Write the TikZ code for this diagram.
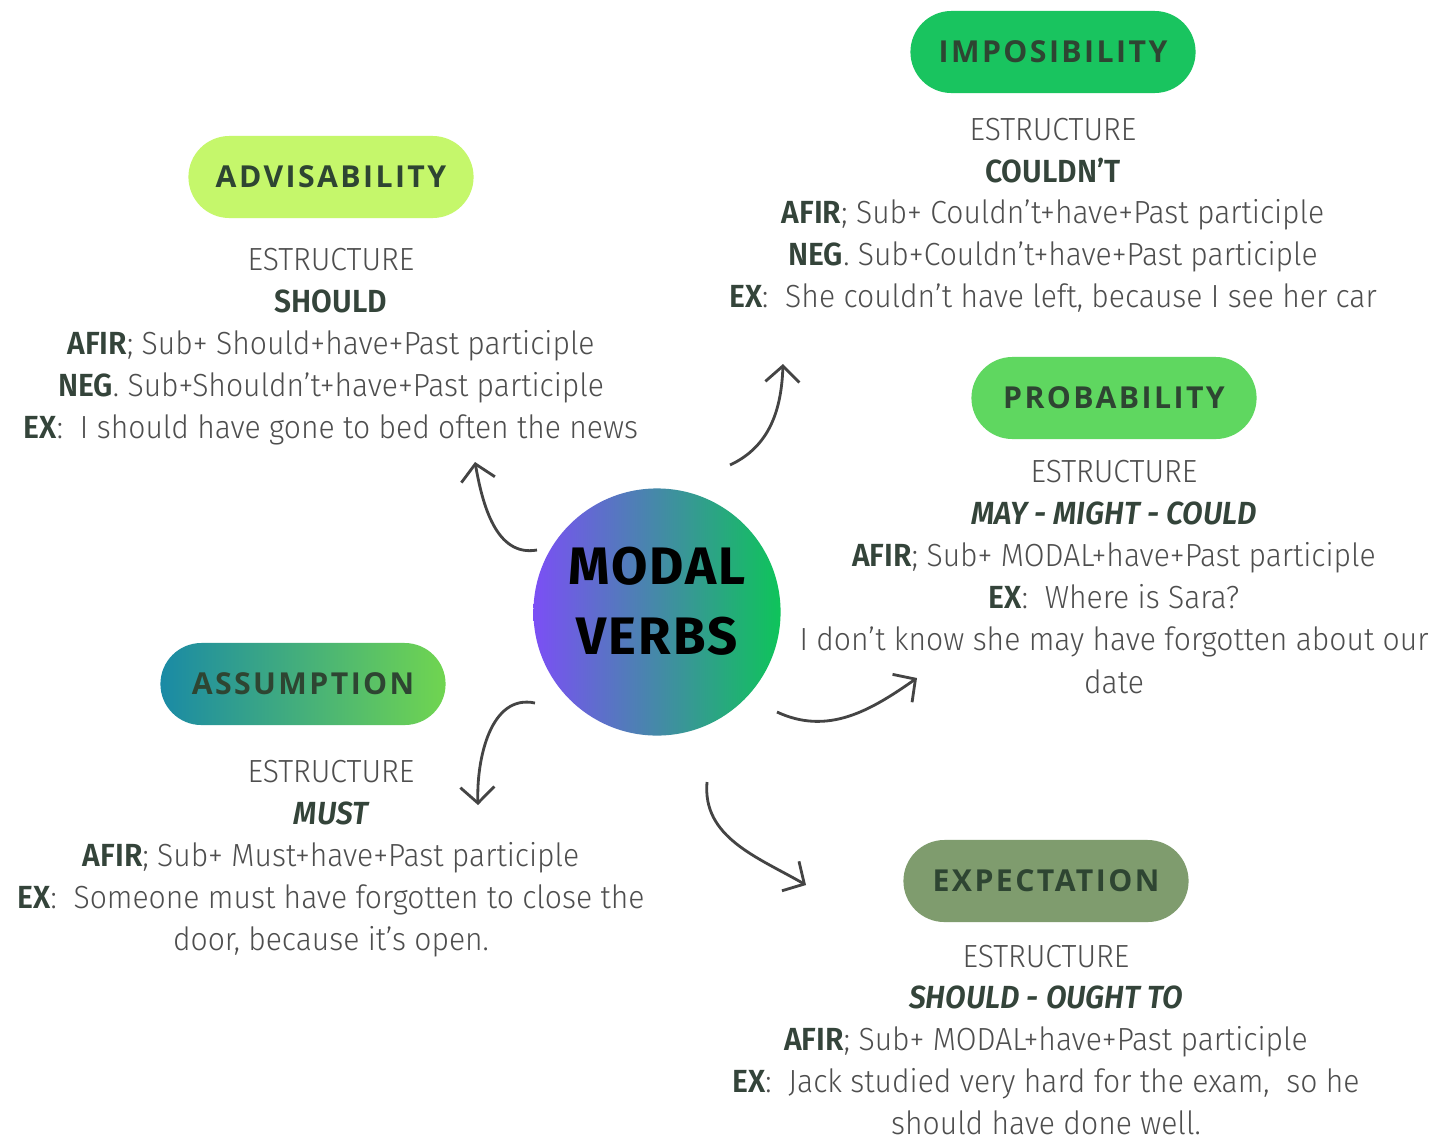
\documentclass[tikz,border=0pt]{standalone}
\usepackage{fontspec}
\usepackage{xcolor}
\usetikzlibrary{arrows.meta}
\setmainfont{Fira Sans}[UprightFont=* Light, BoldFont=* SemiBold, ItalicFont=* Light Italic, BoldItalicFont=* SemiBold Italic, FakeStretch=0.94]
\newfontfamily\pillfont{Open Sans}[LetterSpace=8]
\newfontfamily\hubfont{Fira Sans}[LetterSpace=4]
\definecolor{bodygray}{HTML}{4E4E4E}
\definecolor{labelgreen}{HTML}{34443A}
\definecolor{pilltext}{HTML}{2E4532}
\definecolor{advcol}{HTML}{C5F76B}
\definecolor{impcol}{HTML}{19C45F}
\definecolor{probcol}{HTML}{5FD760}
\definecolor{expcol}{HTML}{7F9C6E}
\definecolor{asslcol}{HTML}{1A8AA5}
\definecolor{assrcol}{HTML}{70D550}
\definecolor{hubl}{HTML}{7B4FF5}
\definecolor{hubr}{HTML}{0EC45A}
\definecolor{arrowgray}{HTML}{444444}
\newcommand{\lab}[1]{\textbf{\color{labelgreen}#1}}

\begin{document}
\begin{tikzpicture}[x=0.01cm,y=-0.01cm]
\tikzstyle{pill} = [rectangle, rounded corners=4.1mm, minimum width=2.85cm, minimum height=0.82cm, text=pilltext, font=\pillfont\bfseries\fontsize{8.6}{10}\selectfont]
\tikzstyle{line} = [anchor=base, inner sep=0pt, text=bodygray, font=\fontsize{9.1}{11}\selectfont]
\tikzstyle{hub} = [circle, minimum size=2.47cm, shading=axis, left color=hubl, right color=hubr]
\tikzstyle{hubtext} = [align=center, inner sep=0pt, font=\hubfont\bfseries\fontsize{15}{19.9}\selectfont]
\tikzstyle{curvy} = [draw=arrowgray, line width=0.8pt, -{Straight Barb[length=1.6mm, width=3.4mm]}]

\fill[white] (0,0) rectangle (1446,1139);

% centre
\node(hub) [hub] at (657,612) {};
\node(hubLabel) [hubtext] at (657,601) {MODAL\\VERBS};

% advisability
\node(advPill) [pill, fill=advcol] at (331,177) {ADVISABILITY};
\node(advEst) [line] at (331,270) {ESTRUCTURE};
\node(advMod) [line] at (331,312) {\lab{SHOULD}};
\node(advAfir) [line] at (331,354) {\lab{AFIR}; Sub+ Should+have+Past participle};
\node(advNeg) [line] at (331,396) {\lab{NEG}. Sub+Shouldn’t+have+Past participle};
\node(advEx) [line] at (331,438) {\lab{EX}:\ \ I should have gone to bed often the news};

% imposibility
\node(impPill) [pill, fill=impcol] at (1053,52) {IMPOSIBILITY};
\node(impEst) [line] at (1053,140) {ESTRUCTURE};
\node(impMod) [line] at (1053,182) {\lab{COULDN’T}};
\node(impAfir) [line] at (1053,223) {\lab{AFIR}; Sub+ Couldn’t+have+Past participle};
\node(impNeg) [line] at (1053,265) {\lab{NEG}. Sub+Couldn’t+have+Past participle};
\node(impEx) [line] at (1053,307) {\lab{EX}:\ \ She couldn’t have left, because I see her car};

% probability
\node(probPill) [pill, fill=probcol] at (1114,398) {PROBABILITY};
\node(probEst) [line] at (1114,482) {ESTRUCTURE};
\node(probMod) [line] at (1114,524) {\lab{\itshape MAY - MIGHT - COULD}};
\node(probAfir) [line] at (1114,566) {\lab{AFIR}; Sub+ MODAL+have+Past participle};
\node(probEx) [line] at (1114,608) {\lab{EX}:\ \ Where is Sara?};
\node(probEx2) [line] at (1114,650) {I don’t know she may have forgotten about our};
\node(probEx3) [line] at (1114,693) {date};

% assumption
\node(assPill) [pill, left color=asslcol, right color=assrcol] at (303,684) {ASSUMPTION};
\node(assEst) [line] at (331,782) {ESTRUCTURE};
\node(assMod) [line] at (331,824) {\lab{\itshape MUST}};
\node(assAfir) [line] at (331,866) {\lab{AFIR}; Sub+ Must+have+Past participle};
\node(assEx) [line] at (331,908) {\lab{EX}:\ \ Someone must have forgotten to close the};
\node(assEx2) [line] at (331,950) {door, because it’s open.};

% expectation
\node(expPill) [pill, fill=expcol] at (1046,881) {EXPECTATION};
\node(expEst) [line] at (1046,967) {ESTRUCTURE};
\node(expMod) [line] at (1046,1008) {\lab{\itshape SHOULD - OUGHT TO}};
\node(expAfir) [line] at (1046,1050) {\lab{AFIR}; Sub+ MODAL+have+Past participle};
\node(expEx) [line] at (1046,1092) {\lab{EX}:\ \ Jack studied very hard for the exam,\ \ so he};
\node(expEx2) [line] at (1046,1134) {should have done well.};

% arrows
\coordinate (advS) at (537,550);
\coordinate (advE) at (475,462);
\coordinate (impS) at (730,465);
\coordinate (impE) at (783,364);
\coordinate (assS) at (535,703);
\coordinate (assE) at (478,805);
\coordinate (probS) at (777,712);
\coordinate (probE) at (917,678);
\coordinate (expS) at (707,782);
\coordinate (expE) at (806,885);
\draw[curvy] (advS) to[out=190, in=-80] (advE);
\draw[curvy] (impS) to[out=25, in=-92] (impE);
\draw[curvy] (assS) to[out=168, in=92] (assE);
\draw[curvy] (probS) to[out=-25, in=215] (probE);
\draw[curvy] (expS) to[out=-95, in=150] (expE);
\end{tikzpicture}
\end{document}
